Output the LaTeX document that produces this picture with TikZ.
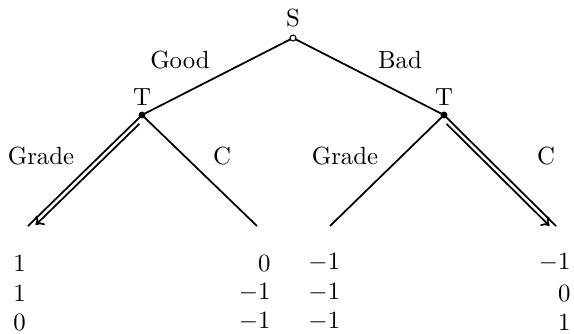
\documentclass[tikz,border=0pt]{standalone}
\usetikzlibrary{arrows.meta,calc}
\begin{document}
\begin{tikzpicture}[x=0.403pt,y=-0.403pt,
  edge/.style={line width=0.7pt},
  par/.style={line width=0.7pt,-{Computer Modern Rightarrow[length=3pt,width=5pt]}},
  lab/.style={inner sep=1pt},
  pay/.style={inner sep=0pt}]
\useasboundingbox (0,0) rectangle (574,333);
% nodes
\coordinate (S) at (293,38);
\coordinate (TL) at (142,115);
\coordinate (TR) at (444,115);
\coordinate (L1) at (28,226);
\coordinate (L2) at (257,226);
\coordinate (L3) at (330,226);
\coordinate (L4) at (556,226);
% edges
\draw[edge] (S) -- (TL);
\draw[edge] (S) -- (TR);
\draw[edge] (TL) -- (L1);
\draw[par] ($(TL)+(-2.6,8.8)$) -- ($(L1)+(7.6,-1)$);
\draw[edge] (TL) -- (L2);
\draw[edge] (TR) -- (L3);
\draw[edge] (TR) -- (L4);
\draw[par] ($(TR)+(2.5,8.8)$) -- ($(L4)+(-6.5,-0.1)$);
% dots
\fill (TL) circle (1.4pt);
\fill (TR) circle (1.4pt);
\filldraw[fill=white,line width=0.45pt] (S) circle (1.2pt);
% labels
\node[lab] (sl) at (293,18) {S};
\node[lab] (tll) at (142,97) {T};
\node[lab] (trl) at (444,97) {T};
\node[lab] (good) at (180,60) {Good};
\node[lab] (bad) at (400,60) {Bad};
\node[lab] (g1) at (41,156) {Grade};
\node[lab] (c1) at (222,156) {C};
\node[lab] (g2) at (345,156) {Grade};
\node[lab] (c2) at (546,156) {C};
% payoffs
\node[pay,anchor=west] (p11) at (13,263) {$1$};
\node[pay,anchor=west] (p12) at (13,293) {$1$};
\node[pay,anchor=west] (p13) at (13,322) {$0$};
\node[pay,anchor=east] (p21) at (271,263) {$0$};
\node[pay,anchor=east] (p22) at (271,293) {$-1$};
\node[pay,anchor=east] (p23) at (271,322) {$-1$};
\node[pay,anchor=west] (p31) at (308,263) {$-1$};
\node[pay,anchor=west] (p32) at (308,293) {$-1$};
\node[pay,anchor=west] (p33) at (308,322) {$-1$};
\node[pay,anchor=east] (p41) at (571,263) {$-1$};
\node[pay,anchor=east] (p42) at (571,293) {$0$};
\node[pay,anchor=east] (p43) at (571,322) {$1$};
\end{tikzpicture}
\end{document}
